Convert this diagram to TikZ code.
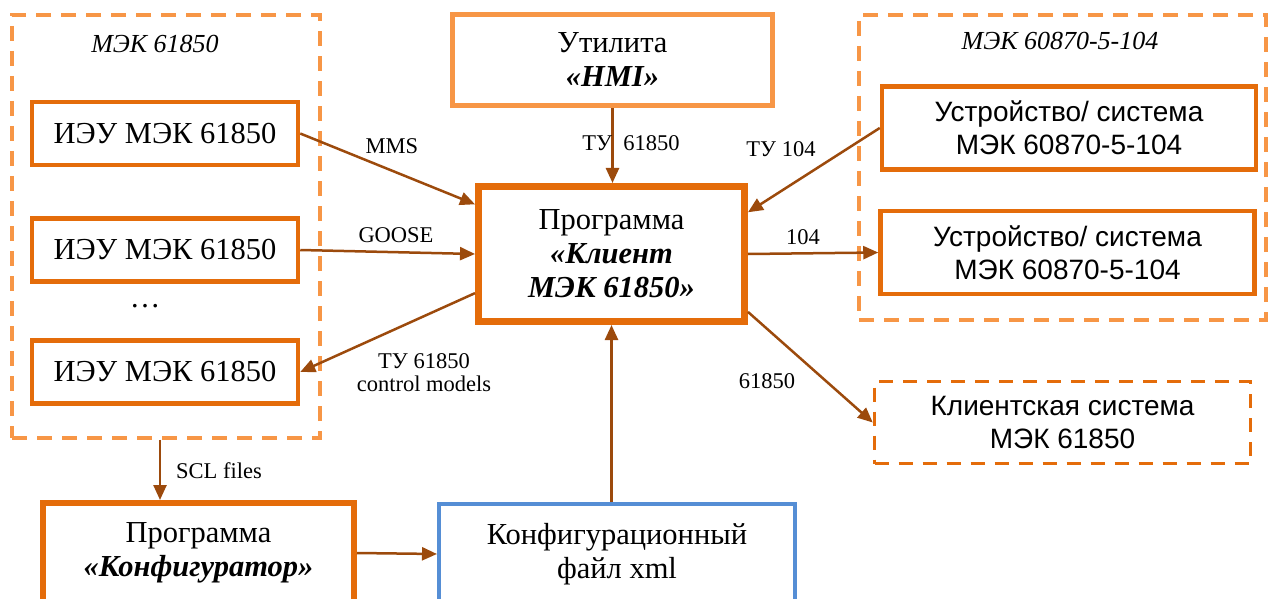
\documentclass[tikz,border=0pt]{standalone}
\usepackage{fontspec}
\setmainfont{Liberation Serif}
\setsansfont{Liberation Sans}
\usepackage{tikz}
\usetikzlibrary{positioning,arrows.meta}
\definecolor{orangedark}{HTML}{E46C0A}
\definecolor{orangelight}{HTML}{F79646}
\definecolor{bluebox}{HTML}{558ED5}
\definecolor{arrowbrown}{HTML}{9C4A0C}
\newcommand{\bigtext}{\fontsize{30.5}{34}\selectfont}
\newcommand{\sanstext}{\sffamily\fontsize{28}{33}\selectfont}
\newcommand{\smalltext}{\fontsize{22.5}{23}\selectfont}

\begin{document}
\begin{tikzpicture}[x=1pt,y=-1pt,
    box/.style={draw, rectangle, inner sep=0pt, align=center, fill=none},
    iedbox/.style={box, orangedark, line width=4.5pt, text=black, minimum width=266pt, minimum height=63pt, font=\bigtext},
    mainbox/.style={box, orangedark, line width=7pt, text=black, minimum width=266pt, minimum height=135pt, font=\bigtext},
    hmibox/.style={box, orangelight, line width=5pt, text=black, minimum width=320pt, minimum height=91pt, font=\bigtext},
    devbox/.style={box, orangedark, line width=4.5pt, text=black, minimum width=374pt, minimum height=83pt, font=\sanstext},
    clientbox/.style={box, orangedark, line width=3.5pt, dash pattern=on 14pt off 10pt, text=black, minimum width=376pt, minimum height=82pt, font=\sanstext},
    groupbox/.style={box, orangelight, line width=3.5pt, dash pattern=on 15pt off 10pt},
    confbox/.style={box, orangedark, line width=6pt, text=black, minimum width=311pt, minimum height=100pt, font=\bigtext},
    xmlbox/.style={box, bluebox, line width=4pt, text=black, minimum width=356pt, minimum height=100pt, font=\bigtext},
    link/.style={draw=arrowbrown, line width=2.5pt, -{Triangle[length=15pt,width=13pt]}},
    lbl/.style={inner sep=0pt, align=center, font=\smalltext},
    grouplbl/.style={inner sep=0pt, font=\fontsize{26}{30}\selectfont\itshape}
]
\useasboundingbox (0,0) rectangle (1272,599);

% Groups
\node[groupbox, minimum width=308pt, minimum height=423pt] (lgroup) at (166,226.5) {};
\node[grouplbl] (lgrouplbl) at (155,44) {МЭК 61850};
\node[groupbox, minimum width=407pt, minimum height=305pt] (rgroup) at (1062.5,167.5) {};
\node[grouplbl] (rgrouplbl) at (1060,41) {МЭК 60870-5-104};

% IEDs
\node[iedbox] (ied1) at (165,133.5) {ИЭУ МЭК 61850};
\node[iedbox] (ied2) at (165,250) {ИЭУ МЭК 61850};
\node[inner sep=0pt, font=\bigtext] (dots) at (145,306) {\dots};
\node[iedbox] (ied3) at (165,372) {ИЭУ МЭК 61850};

% Central program and HMI
\node[hmibox] (hmi) at (612.5,60) {Утилита\\\textbf{\textit{«HMI»}}};
\node[mainbox] (main) at (611.5,254) {Программа\\\textbf{\textit{«Клиент}}\\\textbf{\textit{МЭК 61850»}}};

% Devices
\node[devbox] (dev1) at (1069,128) {Устройство/ система\\МЭК 60870-5-104};
\node[devbox] (dev2) at (1067.5,252.5) {Устройство/ система\\МЭК 60870-5-104};
\node[clientbox] (client) at (1062.5,422.5) {Клиентская система\\МЭК 61850};

% Configuration
\node[confbox] (conf) at (198.5,553) {Программа\\\textbf{\textit{«Конфигуратор»}}};
\node[xmlbox] (xml) at (617,554) {Конфигурационный\\файл xml};

% Connectors
\draw[link] (ied1.east) -- (main.160);
\draw[link] (ied2.east) -- (main.west);
\draw[link] (main.196) -- (ied3.east);
\draw[link] (hmi.south) -- (hmi.south |- main.north);
\draw[link] (dev1.west) -- (main.17);
\draw[link] (main.east) -- (dev2.west);
\draw[link] (main.337) -- (client.west);
\draw[link] (main.south |- xml.north) -- (main.south);
\coordinate (sclstart) at ([xshift=-6pt]lgroup.south);
\draw[link] (sclstart) -- (sclstart |- conf.north);
\draw[link] (conf.east) -- (xml.west);

% Labels
\node[lbl] (lblmms) at (392,146) {MMS};
\node[lbl] (lblgoose) at (396,235) {GOOSE};
\node[lbl] (lblctrl) at (424,373) {ТУ 61850\\control models};
\node[lbl] (lblhmi) at (631,143) {ТУ\ \ 61850};
\node[lbl] (lbltu104) at (781,149) {ТУ 104};
\node[lbl] (lbl104) at (803,237) {104};
\node[lbl] (lbl61850) at (767,381) {61850};
\node[lbl] (lblscl) at (219,471) {SCL files};
\end{tikzpicture}
\end{document}
